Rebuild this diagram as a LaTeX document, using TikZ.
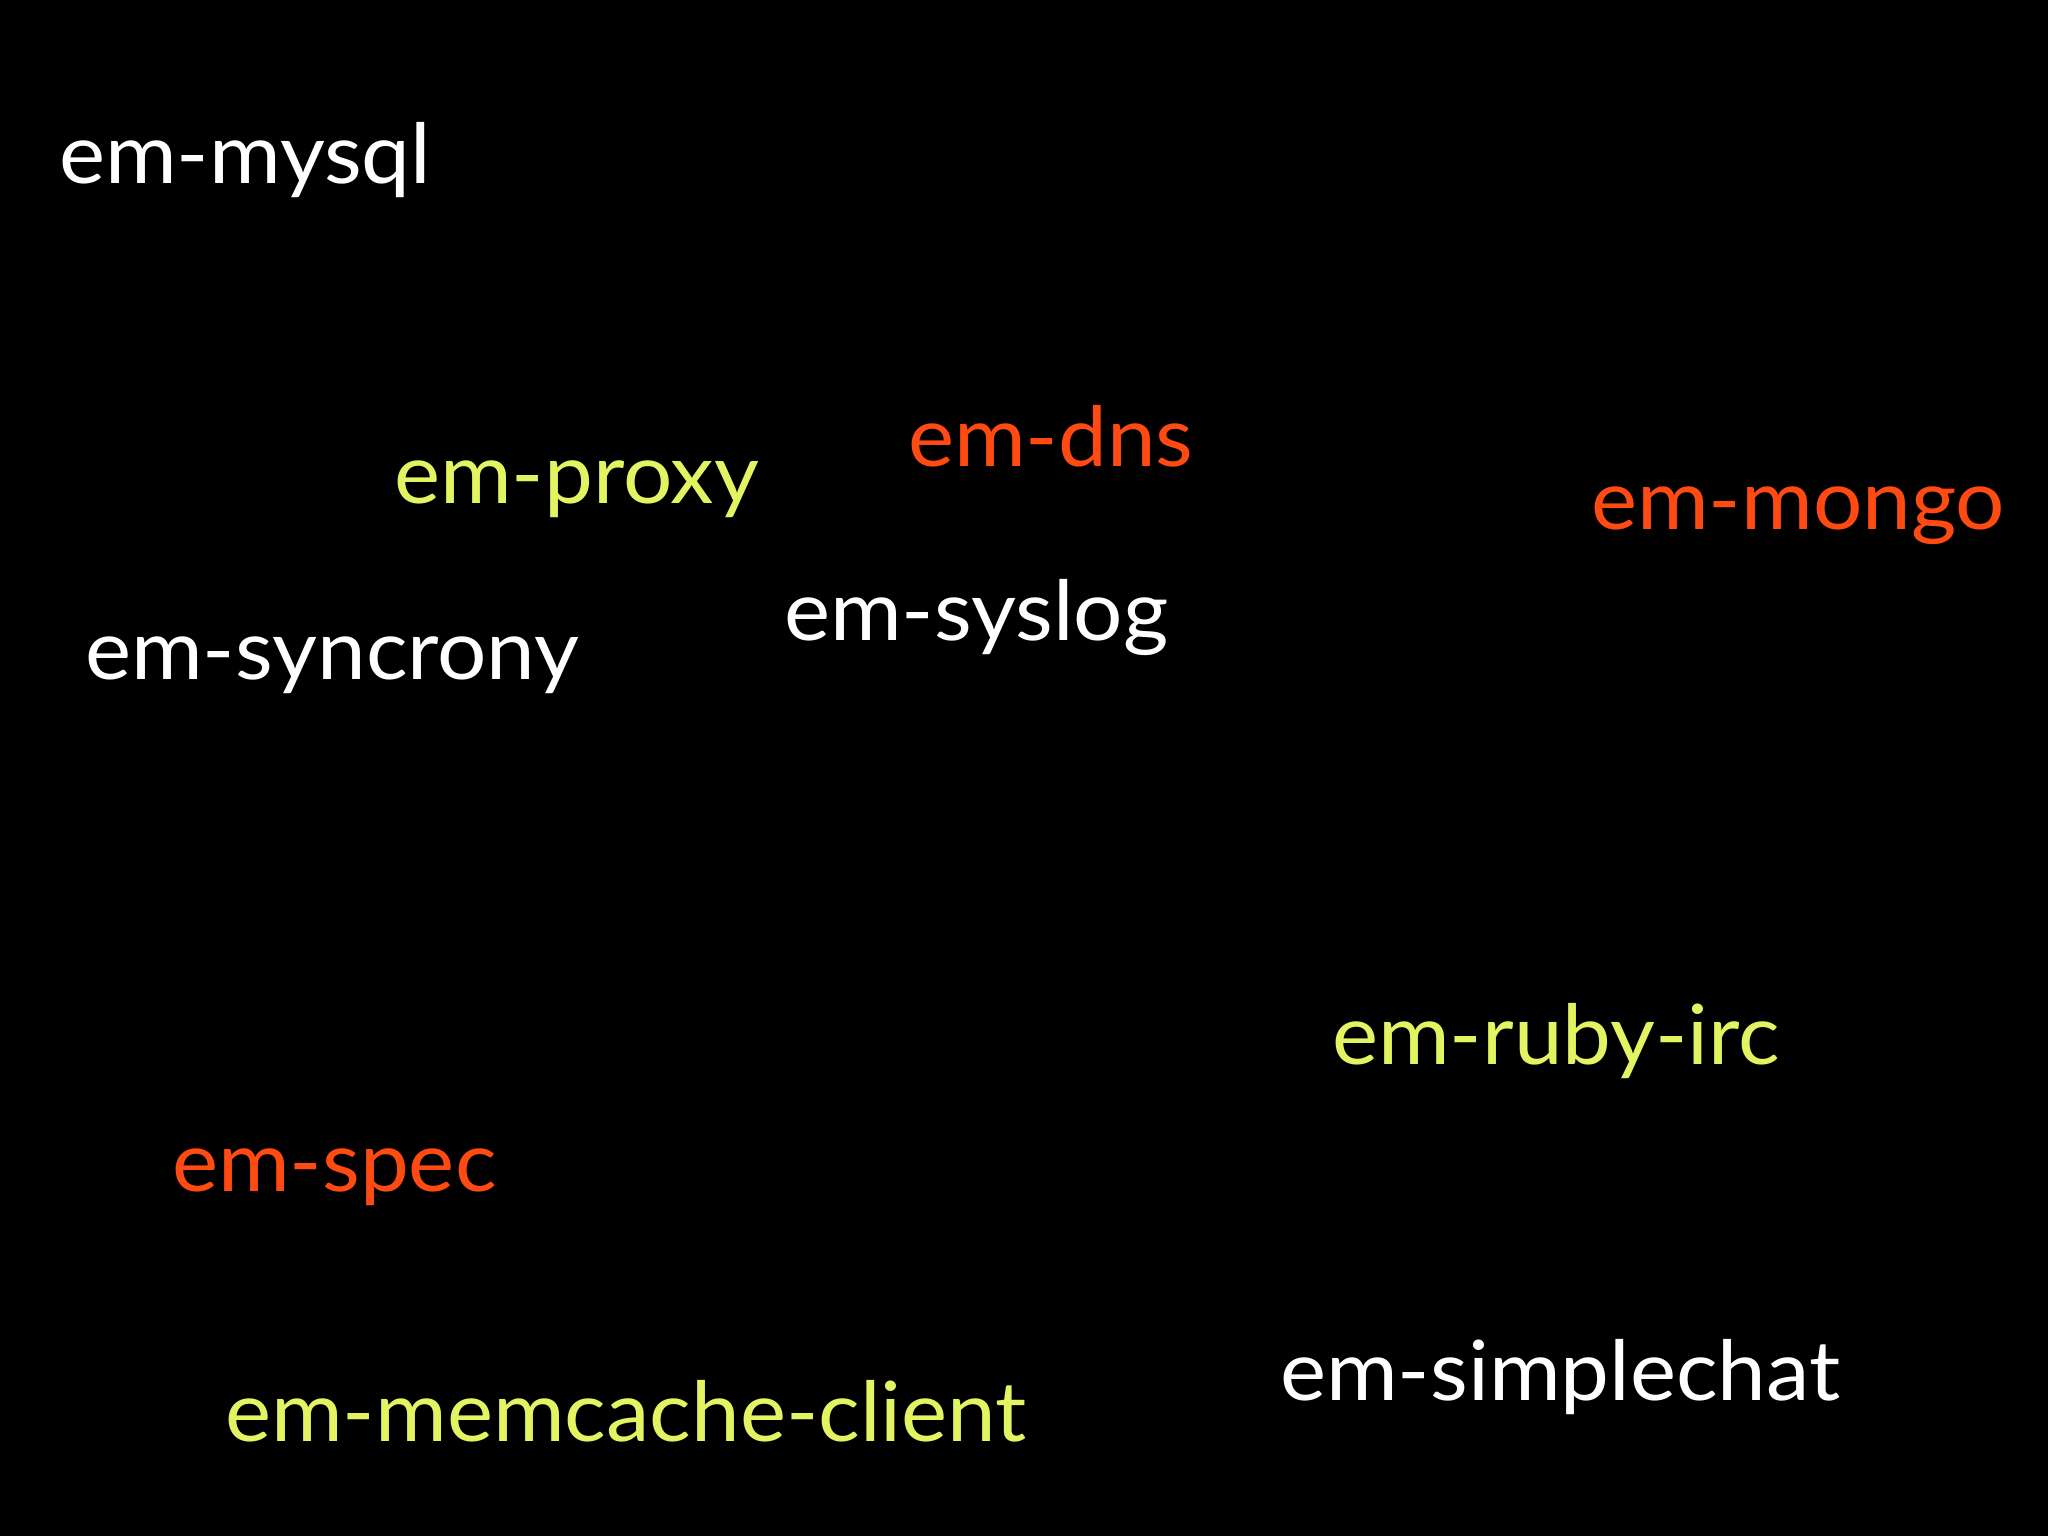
\documentclass[tikz,border=0pt]{standalone}
\usepackage{fontspec}
\setmainfont{Lato}
\definecolor{lime}{HTML}{E2F462}
\definecolor{flame}{HTML}{FF4A12}
\begin{document}
\begin{tikzpicture}[x=1pt,y=-1pt,
  lbl/.style={anchor=base west,inner sep=0pt,xscale=1.05,font=\fontsize{83}{85}\selectfont}]
\fill[black] (0,0) rectangle (2048,1536);
\useasboundingbox (0,0) rectangle (2048,1536);
\node[lbl,white] (mysql) at (59,183) {em-mysql};
\node[lbl,lime] (proxy) at (394,503) {em-proxy};
\node[lbl,flame] (dns) at (908,466) {em-dns};
\node[lbl,flame] (mongo) at (1591,529) {em-mongo};
\node[lbl,white] (syslog) at (784,640) {em-syslog};
\node[lbl,white] (syncrony) at (85,679) {em-syncrony};
\node[lbl,lime] (ruby) at (1332,1064) {em-ruby-irc};
\node[lbl,flame] (spec) at (172,1191) {em-spec};
\node[lbl,lime] (memcache) at (225,1441) {em-memcache-client};
\node[lbl,white] (simplechat) at (1280,1400) {em-simplechat};
\end{tikzpicture}
\end{document}
